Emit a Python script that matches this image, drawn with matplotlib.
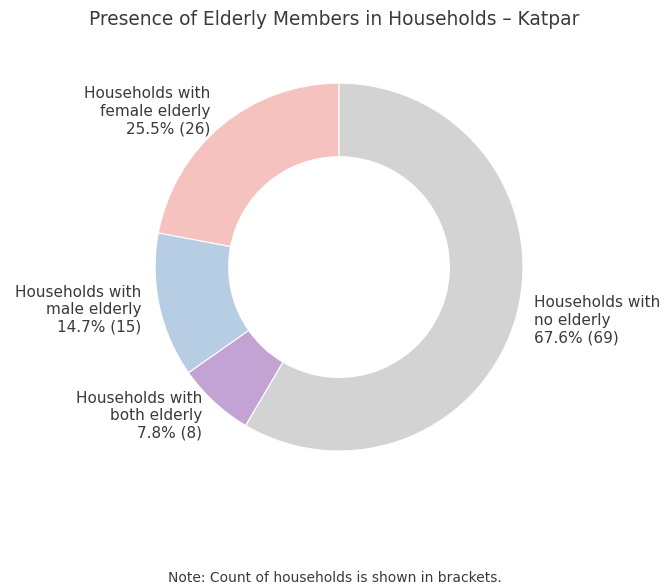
import matplotlib
matplotlib.use("Agg")
import matplotlib.pyplot as plt

# Household counts by presence of elderly members (Katpar)
categories = ["Households with\nfemale elderly", "Households with\nmale elderly",
              "Households with\nboth elderly", "Households with\nno elderly"]
counts = [26, 15, 8, 69]
total_households = 102
colors = ["#f6c2bf", "#b7cde3", "#c3a3d3", "#d3d3d3"]

text_color = "#3a3a3a"

fig = plt.figure(figsize=(6.69, 5.88), dpi=100)
ax = fig.add_axes([0.163, 0.1548, 0.6876, 0.782])

labels = [f"{c}\n{n / total_households * 100:.1f}% ({n})" for c, n in zip(categories, counts)]

wedges, texts = ax.pie(
    counts,
    labels=labels,
    colors=colors,
    startangle=90,
    labeldistance=1.1,
    wedgeprops=dict(width=0.4, edgecolor="white", linewidth=0.8),
    textprops=dict(color=text_color, fontsize=11),
)
ax.set_xlim(-1.25, 1.25)
ax.set_ylim(-1.25, 1.25)
ax.set_aspect("equal")

fig.text(0.5, 0.966, "Presence of Elderly Members in Households \u2013 Katpar",
         ha="center", va="center", fontsize=13.4, color=text_color)
fig.text(0.5, 1 - 578 / 588, "Note: Count of households is shown in brackets.",
         ha="center", va="center", fontsize=10, color=text_color)

fig.savefig("out.png", dpi=100)
